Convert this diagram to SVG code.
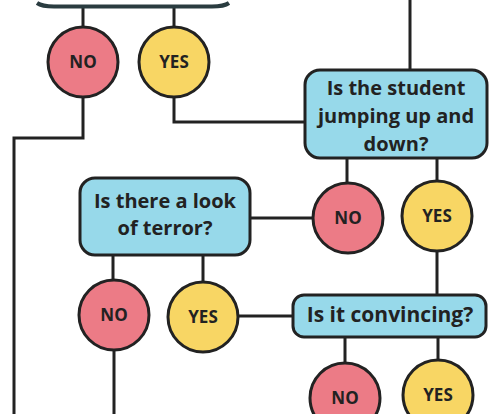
<svg xmlns="http://www.w3.org/2000/svg" width="494" height="414" viewBox="0 0 494 414">
<style>
.c{stroke:#222;stroke-width:3;fill:none}
.no{fill:#ec7b86;stroke:#222;stroke-width:3}
.yes{fill:#f8d664;stroke:#222;stroke-width:3}
.q{fill:#97d9ea;stroke:#222;stroke-width:3}
.t{font-family:"Open Sans","DejaVu Sans",sans-serif;font-weight:bold;fill:#222;text-anchor:middle}
.qt{font-size:20px}
.q3t{font-size:21px}
.ct{font-size:17px}
</style>
<rect width="494" height="414" fill="#fff"/>
<g id="connectors">
<path class="c" d="M83,7V27M174,7V27M83,97V138H14V414M174,97V122H305M410,0V70M347,158V183M437,158V182M250,218H313M113,255V280M203,255V282M114,350V414M238,316H293M437,251V295M345,337V363M438,337V360"/>
</g>
<g id="top-box">
<path d="M37,3Q42,6.5 54,6.5H212Q224,6.5 229,3" fill="none" stroke="#2a3c40" stroke-width="4"/>
</g>
<g id="no1"><circle class="no" cx="83" cy="62" r="35"/><text class="t ct" x="83" y="68">NO</text></g>
<g id="yes1"><circle class="yes" cx="174" cy="62" r="35"/><text class="t ct" x="174" y="68">YES</text></g>
<g id="q1"><rect class="q" x="305" y="70" width="182" height="88" rx="15"/>
<text class="t qt" x="396" y="95">Is the student</text>
<text class="t qt" x="396" y="123">jumping up and</text>
<text class="t qt" x="396" y="151">down?</text></g>
<g id="q2"><rect class="q" x="80" y="178" width="170" height="77" rx="15"/>
<text class="t qt" x="165" y="208">Is there a look</text>
<text class="t qt" x="165" y="235">of terror?</text></g>
<g id="no2"><circle class="no" cx="348" cy="218" r="35"/><text class="t ct" x="348" y="224">NO</text></g>
<g id="yes2"><circle class="yes" cx="437" cy="216" r="35"/><text class="t ct" x="437" y="222">YES</text></g>
<g id="no3"><circle class="no" cx="114" cy="315" r="35"/><text class="t ct" x="114" y="321">NO</text></g>
<g id="yes3"><circle class="yes" cx="203" cy="317" r="35"/><text class="t ct" x="203" y="323">YES</text></g>
<g id="q3"><rect class="q" x="293" y="295" width="193" height="42" rx="11"/>
<text class="t q3t" x="390" y="322">Is it convincing?</text></g>
<g id="no4"><circle class="no" cx="345" cy="398" r="35"/><text class="t ct" x="345" y="404">NO</text></g>
<g id="yes4"><circle class="yes" cx="438" cy="395" r="35"/><text class="t ct" x="438" y="401">YES</text></g>
</svg>
